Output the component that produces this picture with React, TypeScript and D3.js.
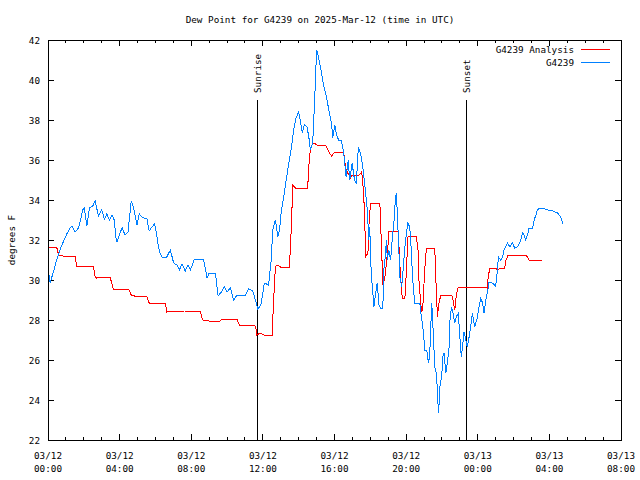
import React from "react";
import * as d3 from "d3";

// minutes since 2025-03-12 00:00 UTC
const obsMinutes = [0,7,18,29,40,51,63,74,80,91,102,110,116,122,130,139,150,158,169,180,189,197,206,214,222,228,231,242,249,258,268,279,286,298,306,315,322,331,339,348,357,363,370,375,382,398,410,421,432,440,449,460,469,477,491,521,533,540,561,570,581,591,600,611,622,633,661,672,686,697,703,713,719,725,739,748,753,762,770,776,782,790,798,807,816,823,831,840,846,852,859,868,874,879,887,894,900,905,913,922,933,941,950,954,961,967,974,983,991,999,1006,1011,1019,1027,1033,1040,1047,1055,1064,1070,1075,1078,1083,1087,1092,1098,1103,1109,1114,1122,1125,1129,1134,1137,1142,1148,1154,1159,1162,1167,1170,1176,1179,1185,1189,1196,1201,1206,1212,1215,1221,1224,1229,1246,1251,1256,1263,1269,1275,1279,1282,1286,1291,1296,1301,1305,1308,1310,1313,1319,1323,1327,1333,1338,1344,1347,1352,1357,1363,1368,1375,1380,1385,1389,1394,1400,1405,1411,1416,1422,1430,1439,1444,1450,1456,1461,1467,1472,1478,1489,1500,1506,1509,1517,1523,1528,1540,1548,1556,1564,1573,1582,1590,1595,1601,1609,1612,1624,1629,1635,1640,1646,1657,1674,1691,1707,1713,1719,1725];
const obsValues = [30.6,29.85,30.4,31.0,31.5,31.9,32.3,32.6,32.7,32.4,32.6,33.05,33.5,33.6,32.7,33.6,33.7,33.95,33.2,33.5,33.05,33.3,33.0,33.25,33.0,32.1,31.9,32.4,32.6,32.25,32.4,33.95,33.65,32.75,33.3,33.15,33.1,33.1,32.45,32.65,32.8,32.4,31.65,31.35,31.15,31.15,31.5,30.85,30.75,30.5,30.8,30.45,30.75,30.5,31.05,31.05,30.1,30.35,30.35,29.2,29.4,29.65,29.4,29.6,29.0,29.25,29.25,29.55,29.45,28.9,28.55,28.75,29.25,29.85,29.75,31.0,32.5,33.0,32.15,32.5,33.5,34.15,35.0,35.85,36.65,37.5,38.1,38.4,37.9,37.35,37.75,37.65,37.15,36.5,36.85,39.15,41.5,41.25,40.65,39.85,39.15,38.5,37.85,37.1,37.75,37.25,37.0,37.0,36.35,35.15,36.0,35.0,35.85,35.0,34.85,36.65,36.35,35.65,34.4,33.5,32.0,32.65,30.35,29.65,28.65,29.35,29.85,28.75,28.6,28.6,30.5,31.0,32.0,31.0,31.5,31.0,32.15,32.85,33.65,34.35,33.5,31.35,30.15,29.65,30.35,31.65,32.35,32.85,32.65,32.1,30.35,29.65,28.85,28.85,28.15,27.65,26.5,26.5,25.85,26.15,27.5,28.85,27.35,25.65,25.35,24.5,23.35,23.65,24.65,25.15,26.15,26.35,25.35,25.85,26.65,28.0,28.65,28.35,27.85,28.15,28.35,27.15,26.15,26.65,27.4,27.0,26.65,27.15,27.65,28.35,27.65,28.15,28.65,29.1,28.85,28.35,29.0,29.35,29.9,29.85,29.7,30.5,31.15,31.0,31.15,31.5,31.85,31.65,31.85,31.6,31.65,31.9,32.35,32.25,32.0,32.4,32.6,32.6,33.0,33.25,33.5,33.6,33.6,33.5,33.45,33.35,33.25,33.1,32.8];

const anaMinutes = [0,29,33,37,44,51,91,96,152,158,163,175,208,219,270,279,290,331,339,393,398,458,477,510,518,538,577,583,633,641,692,697,700,711,723,751,756,762,767,779,809,816,820,829,870,876,882,891,902,930,941,950,961,991,995,999,1008,1014,1019,1042,1051,1055,1061,1064,1070,1073,1075,1078,1081,1112,1117,1122,1128,1134,1139,1142,1174,1178,1184,1187,1196,1201,1206,1223,1234,1240,1243,1249,1252,1256,1260,1265,1269,1296,1301,1305,1308,1312,1317,1353,1357,1363,1368,1374,1377,1472,1474,1480,1500,1506,1517,1530,1535,1542,1601,1606,1612,1654];
const anaValues = [31.65,31.65,31.4,31.2,31.25,31.2,31.2,30.7,30.7,30.15,30.1,30.15,30.15,29.55,29.55,29.25,29.2,29.2,28.85,28.85,28.4,28.45,28.45,28.45,28.0,27.95,27.95,28.05,28.05,27.75,27.75,27.55,27.25,27.35,27.25,27.25,29.0,30.65,30.75,30.65,30.65,32.85,34.75,34.6,34.6,36.15,36.7,36.85,36.75,36.75,36.4,36.2,36.4,36.4,35.85,35.5,35.25,35.1,35.25,35.25,35.4,34.85,33.35,31.15,31.3,31.5,32.65,33.35,33.85,33.85,31.85,29.85,30.0,30.85,31.65,32.45,32.45,31.0,29.65,29.1,29.1,30.5,32.15,32.2,32.2,31.5,30.0,28.85,28.4,28.65,29.85,31.15,31.6,31.6,29.5,28.15,28.65,29.0,29.25,29.25,29.0,28.5,29.25,29.6,29.65,29.6,30.0,30.6,30.6,30.5,30.6,30.6,31.0,31.25,31.25,31.15,31.0,31.0];

const sunEvents = [
  { label: "Sunrise", minutes: 701 },
  { label: "Sunset", minutes: 1403 },
];
const yTicks = [22, 24, 26, 28, 30, 32, 34, 36, 38, 40, 42];
const seriesNames = ["G4239 Analysis", "G4239"];
const seriesColors = ["#ff0000", "#0080ff"];
const titleText = "Dew Point for G4239 on 2025-Mar-12 (time in UTC)";
const yLabel = "degrees F";

const START = Date.UTC(2025, 2, 12, 0, 0);
const toDate = (m: number) => new Date(START + m * 60000);

export default function App() {
  const W = 640, H = 480;
  const L = 48, R = 621, T = 40, B = 440;
  const x = d3.scaleUtc().domain([toDate(0), toDate(32 * 60)]).range([L, R]);
  const y = d3.scaleLinear().domain([22, 42]).range([B, T]);
  const font = "'DejaVu Sans Mono', 'Liberation Mono', monospace";
  const fs = 9.3;

  const line = d3.line<[number, number]>().x(d => x(toDate(d[0]))).y(d => y(d[1]));
  const obs = obsMinutes.map((m, i) => [m, obsValues[i]] as [number, number]);
  const ana = anaMinutes.map((m, i) => [m, anaValues[i]] as [number, number]);

  const majorTicks = x.ticks(d3.utcHour.every(4)!);
  const minorTicks = x.ticks(d3.utcHour.every(1)!).filter(t => t.getUTCHours() % 4 !== 0);
  const fmtD = d3.utcFormat("%m/%d");
  const fmtT = d3.utcFormat("%H:%M");

  return (
    <svg width={W} height={H} style={{ position: "absolute", left: 0, top: 0, background: "#fff" }} fontFamily={font} fontSize={fs}>
      <rect x={0} y={0} width={W} height={H} fill="#fff" />
      <text x={320} y={23} textAnchor="middle">{titleText}</text>
      <g shapeRendering="crispEdges" stroke="#000" strokeWidth={1}>
        {yTicks.map(t => (
          <g key={"y" + t}>
            <line x1={L} x2={L + 6} y1={y(t)} y2={y(t)} />
            <line x1={R - 6} x2={R} y1={y(t)} y2={y(t)} />
          </g>
        ))}
        {majorTicks.map(t => (
          <g key={"mx" + t.getTime()}>
            <line x1={x(t)} x2={x(t)} y1={B} y2={B - 6} />
            <line x1={x(t)} x2={x(t)} y1={T} y2={T + 6} />
          </g>
        ))}
        {minorTicks.map(t => (
          <g key={"nx" + t.getTime()}>
            <line x1={x(t)} x2={x(t)} y1={B} y2={B - 3} />
            <line x1={x(t)} x2={x(t)} y1={T} y2={T + 3} />
          </g>
        ))}
        {sunEvents.map(s => (
          <line key={s.label} x1={x(toDate(s.minutes))} x2={x(toDate(s.minutes))} y1={100} y2={B} />
        ))}
      </g>
      {sunEvents.map(s => (
        <text key={"t" + s.label} transform={`translate(${x(toDate(s.minutes)) + 3.5},93) rotate(-90)`} textAnchor="start">{s.label}</text>
      ))}
      {yTicks.map(t => (
        <text key={"yl" + t} x={40} y={y(t) + 3.5} textAnchor="end">{t}</text>
      ))}
      {majorTicks.map(t => (
        <g key={"xl" + t.getTime()}>
          <text x={x(t)} y={459} textAnchor="middle">{fmtD(t)}</text>
          <text x={x(t)} y={472} textAnchor="middle">{fmtT(t)}</text>
        </g>
      ))}
      <text transform="translate(15,240) rotate(-90)" textAnchor="middle">{yLabel}</text>
      <g fill="none" strokeWidth={1} shapeRendering="crispEdges">
        <path d={line(ana) || ""} stroke={seriesColors[0]} />
        <path d={line(obs) || ""} stroke={seriesColors[1]} />
      </g>
      {seriesNames.map((n, i) => (
        <g key={n}>
          <text x={574} y={53 + i * 13} textAnchor="end">{n}</text>
          <line x1={581} x2={610} y1={49.5 + i * 13} y2={49.5 + i * 13} stroke={seriesColors[i]} shapeRendering="crispEdges" />
        </g>
      ))}
      <rect x={L} y={T} width={R - L} height={B - T} fill="none" stroke="#000" shapeRendering="crispEdges" />
    </svg>
  );
}
